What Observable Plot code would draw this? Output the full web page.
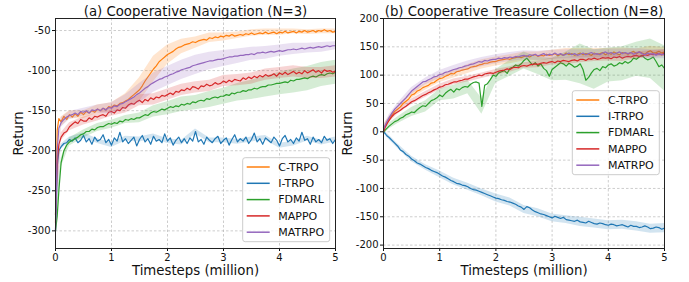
<!DOCTYPE html>
<html><head><meta charset="utf-8">
<script src="https://cdn.jsdelivr.net/npm/d3@7"></script>
<script src="https://cdn.jsdelivr.net/npm/@observablehq/plot@0.6"></script>
<style>
body{margin:0;background:#fff;font-family:"DejaVu Sans",sans-serif}
#wrap{display:flex;width:689px;height:282px;overflow:hidden}
svg{overflow:visible}
</style></head><body><div id="wrap"></div>
<script>
const methods = ["C-TRPO","I-TRPO","FDMARL","MAPPO","MATRPO"];
const colors = ["#ff7f0e","#1f77b4","#2ca02c","#d62728","#9467bd"];
const xTicks = [0,1,2,3,4,5];
const navYTicks = [-300,-250,-200,-150,-100,-50];
const ctcYTicks = [-200,-150,-100,-50,0,50,100,150,200];

const steps = [0,0.03,0.06,0.1,0.15,0.2,0.25,0.3,
  0.35,0.4,0.45,0.5,0.55,0.6,0.65,0.7,0.75,0.8,
  0.85,0.9,0.95,1.0,1.05,1.1,1.15,1.2,1.25,1.3,
  1.35,1.4,1.45,1.5,1.55,1.6,1.65,1.7,1.75,1.8,
  1.85,1.9,1.95,2.0,2.05,2.1,2.15,2.2,2.25,2.3,
  2.35,2.4,2.45,2.5,2.55,2.6,2.65,2.7,2.75,2.8,
  2.85,2.9,2.95,3.0,3.05,3.1,3.15,3.2,3.25,3.3,
  3.35,3.4,3.45,3.5,3.55,3.6,3.65,3.7,3.75,3.8,
  3.85,3.9,3.95,4.0,4.05,4.1,4.15,4.2,4.25,4.3,
  4.35,4.4,4.45,4.5,4.55,4.6,4.65,4.7,4.75,4.8,
  4.85,4.9,4.95,5.0];
const bandSteps = [0,0.1,0.25,0.5,0.75,1.0,1.25,1.5,1.75,2.0,2.25,2.5,2.75,3.0,3.25,3.5,3.75,4.0,4.25,4.5,4.75,5.0];

// (a) Cooperative Navigation (N=3)
const navCTRPO = [-290,-175,-160,-164,-157,-161,-155,-158,
  -154,-157,-152,-155,-151,-153,-150,-152,-148,-150,
  -147,-149,-145,-146,-143,-144,-141,-140,-138,-136,
  -133,-130,-127,-124,-119,-113,-108,-103,-98,-94,
  -89,-86,-83,-80,-78,-76,-73,-71,-70,-68,
  -67,-66,-64,-65,-63,-62,-61,-62,-59,-60,
  -58,-59,-57,-58,-56,-57,-55,-57,-56,-55,
  -56,-54,-55,-53,-55,-54,-53,-54,-52,-54,
  -53,-52,-54,-52,-53,-51,-53,-52,-51,-53,
  -51,-52,-50,-52,-51,-50,-52,-50,-51,-49,
  -51,-50,-52,-51];
const navITRPO = [-300,-220,-200,-195,-191,-190,-186,-188,
  -184,-190,-187,-181,-189,-185,-192,-183,-188,-186,
  -180,-190,-186,-193,-184,-188,-177,-189,-185,-191,
  -187,-183,-194,-186,-181,-189,-185,-192,-182,-188,
  -186,-190,-179,-188,-184,-193,-187,-183,-190,-185,
  -191,-184,-188,-176,-189,-186,-192,-183,-187,-190,
  -185,-182,-191,-187,-184,-193,-186,-180,-189,-185,
  -188,-183,-191,-186,-178,-189,-185,-192,-184,-187,
  -190,-183,-187,-194,-185,-181,-189,-186,-191,-184,
  -188,-177,-187,-185,-192,-183,-189,-186,-190,-182,
  -187,-185,-191,-186];
const navFDMARL = [-300,-282,-250,-215,-200,-193,-189,-187,
  -185,-183,-180,-179,-176,-176,-173,-174,-171,-170,
  -170,-168,-166,-167,-165,-166,-163,-164,-161,-162,
  -160,-161,-159,-159,-157,-155,-156,-153,-151,-152,
  -150,-148,-149,-147,-145,-146,-144,-145,-142,-143,
  -141,-142,-139,-140,-138,-137,-138,-135,-136,-134,
  -133,-134,-132,-132,-130,-131,-128,-129,-127,-127,
  -125,-126,-124,-124,-122,-123,-121,-120,-120,-118,
  -118,-117,-116,-116,-115,-114,-115,-112,-113,-111,
  -111,-110,-109,-110,-108,-107,-108,-106,-105,-106,
  -104,-103,-104,-102];
const navMAPPO = [-280,-215,-192,-183,-178,-176,-170,-167,
  -164,-166,-161,-163,-163,-159,-161,-157,-158,-156,
  -155,-157,-152,-151,-153,-149,-150,-146,-147,-143,
  -141,-142,-139,-137,-140,-136,-138,-134,-136,-133,
  -134,-131,-132,-130,-128,-130,-126,-127,-124,-125,
  -122,-124,-120,-121,-123,-119,-120,-117,-119,-118,
  -115,-117,-116,-113,-115,-112,-114,-111,-112,-113,
  -109,-111,-108,-110,-107,-109,-106,-108,-105,-107,
  -106,-104,-107,-103,-105,-102,-105,-103,-101,-104,
  -102,-104,-100,-103,-101,-99,-102,-100,-103,-99,
  -101,-100,-102,-101];
const navMATRPO = [-300,-200,-172,-165,-161,-158,-156,-155,
  -153,-155,-151,-152,-150,-153,-149,-150,-148,-150,
  -147,-149,-146,-147,-144,-145,-142,-141,-139,-137,
  -135,-133,-130,-128,-125,-122,-120,-117,-115,-113,
  -111,-110,-108,-107,-105,-104,-102,-101,-99,-98,
  -97,-96,-94,-93,-92,-91,-90,-89,-88,-88,
  -87,-86,-86,-85,-84,-83,-83,-82,-82,-81,
  -81,-80,-80,-79,-80,-78,-78,-77,-78,-77,
  -76,-77,-76,-75,-76,-75,-74,-74,-73,-74,
  -73,-72,-73,-72,-71,-72,-71,-70,-71,-70,
  -69,-70,-69,-69];
const navBandCTRPO = [10,6,5,5,5,6,9,15,16,12,9,7,6,5,4,4,4,4,3,3,3,3];
const navBandITRPO = [10,3,3,3,3,3,3,3,3,3,3,3,3,3,3,3,3,3,3,3,3,3];
const navBandFDMARL = [10,6,5,5,5,5,5,6,7,8,9,9,10,10,11,12,13,14,15,15,15,15];
const navBandMAPPO = [10,5,5,5,5,6,6,7,7,7,7,7,7,7,7,7,7,7,7,7,7,7];
const navBandMATRPO = [10,6,5,5,5,7,9,12,12,12,12,12,11,10,9,8,8,7,7,6,6,5];

// (b) Cooperative Treasure Collection (N=8)
const ctcCTRPO = [8,10,15,22,30,36,40,44,
  50,54,58,65,67,72,74,78,80,82,
  86,87,91,94,95,98,100,103,102,106,
  107,109,110,111,114,115,116,118,119,121,
  121,123,124,124,126,127,128,129,128,130,
  131,132,131,133,134,132,135,136,133,135,
  134,137,135,136,138,134,137,135,139,136,
  138,135,137,139,136,138,137,135,139,137,
  138,140,136,139,137,141,138,136,140,139,
  137,140,142,138,141,139,137,141,143,139,
  140,142,139,141];
const ctcITRPO = [0,-3,-7,-10,-15,-20,-25,-32,
  -35,-40,-43,-48,-51,-55,-57,-60,-63,-65,
  -68,-70,-72,-75,-78,-80,-83,-86,-88,-91,
  -92,-94,-95,-97,-100,-102,-103,-105,-107,-109,
  -111,-113,-115,-117,-118,-120,-121,-123,-124,-126,
  -128,-131,-133,-137,-132,-134,-138,-141,-143,-145,
  -146,-148,-150,-152,-149,-151,-153,-151,-155,-156,
  -157,-158,-156,-159,-160,-161,-158,-160,-162,-163,
  -161,-162,-164,-165,-163,-164,-166,-165,-164,-166,
  -168,-165,-167,-167,-169,-168,-166,-168,-171,-170,
  -168,-169,-172,-170];
const ctcFDMARL = [0,3,6,10,14,18,20,24,
  26,30,32,35,34,39,43,46,45,50,
  55,57,60,65,62,68,72,75,70,76,
  74,78,80,79,84,87,88,86,45,82,
  85,92,100,98,104,106,108,103,112,114,
  118,116,120,126,130,124,118,122,116,120,
  112,108,98,110,114,118,122,120,116,121,
  118,114,116,120,110,91,96,104,110,112,
  108,115,113,118,120,116,118,122,120,124,
  121,124,130,128,132,135,130,127,129,132,
  124,115,118,112];
const ctcMAPPO = [0,8,14,20,27,32,35,38,
  42,45,49,53,55,58,61,64,66,69,
  71,74,76,79,80,83,84,86,88,88,
  90,91,93,93,95,97,98,100,99,102,
  103,104,103,105,107,108,109,111,110,113,
  114,113,116,117,116,118,119,120,119,121,
  122,121,123,124,122,125,124,126,125,124,
  126,127,125,128,128,126,129,128,130,128,
  129,131,130,131,129,132,131,133,130,132,
  133,132,134,135,133,134,136,135,137,136,
  137,138,136,139];
const ctcMATRPO = [5,12,18,25,33,40,45,50,
  55,60,66,72,76,80,84,88,89,92,
  94,97,98,101,102,105,106,108,110,111,
  113,114,116,117,119,120,122,124,123,126,
  125,127,128,128,130,129,131,130,132,131,
  133,132,134,135,133,136,135,137,134,136,
  138,135,137,136,139,136,138,135,137,139,
  136,138,135,137,139,136,138,140,137,138,
  136,139,141,138,140,137,139,141,138,140,
  138,140,137,139,141,138,136,139,137,138,
  135,138,136,137];
const ctcBandCTRPO = [5,5,5,6,6,7,7,8,8,8,8,8,8,8,8,8,8,8,8,8,8,8];
const ctcBandITRPO = [3,4,4,5,5,6,6,6,6,7,7,7,7,7,7,8,8,8,8,8,8,8];
const ctcBandFDMARL = [5,5,6,8,10,10,12,12,14,12,14,15,15,20,25,35,35,30,30,30,35,40];
const ctcBandMAPPO = [4,4,4,5,5,5,5,5,5,5,5,5,6,6,6,6,6,6,6,6,6,6];
const ctcBandMATRPO = [5,5,5,6,6,7,7,8,8,8,8,8,8,8,8,8,8,8,8,8,8,8];

function buildRows(seriesList, bandList) {
  const lines = [], bands = [];
  methods.forEach((m, k) => {
    seriesList[k].forEach((v, i) => lines.push({method: m, t: steps[i], v}));
    bandList[k].forEach((w, j) => {
      const i = steps.indexOf(bandSteps[j]);
      const v = seriesList[k][i];
      bands.push({method: m, t: bandSteps[j], lo: v - w, hi: v + w});
    });
  });
  return {lines, bands};
}

function addLegend(svg, bx, by) {
  const g = d3.select(svg).append("g")
    .attr("font-family", "DejaVu Sans").attr("font-size", 11).attr("text-anchor", "start");
  g.append("rect").attr("x", bx).attr("y", by).attr("width", 87).attr("height", 84)
    .attr("rx", 2.5).attr("fill", "white").attr("fill-opacity", 0.8).attr("stroke", "#cccccc");
  methods.forEach((m, i) => {
    const y = by + 9.3 + i * 16.3;
    g.append("line").attr("x1", bx + 4).attr("x2", bx + 27).attr("y1", y).attr("y2", y)
      .attr("stroke", colors[i]).attr("stroke-width", 1.5);
    g.append("text").attr("x", bx + 35.6).attr("y", y).attr("dy", "0.35em")
      .attr("text-anchor", "start").attr("fill", "#111").text(m);
  });
}

function panel(o) {
  const {lines, bands} = buildRows(o.series, o.bands);
  const marks = [
    Plot.gridX(xTicks, {stroke: "#b0b0b0", strokeOpacity: 0.8, strokeDasharray: "2.5,2", strokeWidth: 0.8}),
    Plot.gridY(o.yTicks, {stroke: "#b0b0b0", strokeOpacity: 0.8, strokeDasharray: "2.5,2", strokeWidth: 0.8})
  ];
  methods.forEach(m => {
    marks.push(Plot.areaY(bands.filter(d => d.method === m), {x: "t", y1: "lo", y2: "hi", fill: "method", fillOpacity: 0.2}));
    marks.push(Plot.lineY(lines.filter(d => d.method === m), {x: "t", y: "v", stroke: "method", strokeWidth: 1.2}));
  });
  marks.push(
    Plot.axisX(xTicks, {tickSize: 3, tickPadding: 2, fontSize: 10, label: null, tickFormat: d => String(d)}),
    Plot.axisY(o.yTicks, {tickSize: 3, tickPadding: 2, fontSize: 10, label: null, tickFormat: d => String(d)}),
    Plot.frame({stroke: "#222", strokeWidth: 1}),
    Plot.text([o.title], {frameAnchor: "top", lineAnchor: "bottom", dy: -3, fontSize: 13.3, fill: "#111"}),
    Plot.text(["Timesteps (million)"], {frameAnchor: "bottom", lineAnchor: "bottom", dy: 26, fontSize: 13.3, fill: "#111"}),
    Plot.text(["Return"], {frameAnchor: "left", textAnchor: "middle", rotate: -90, dx: o.yLabelDx, fontSize: 13.3, fill: "#111"})
  );
  const svg = Plot.plot({
    width: o.width, height: 282,
    marginLeft: o.marginLeft, marginRight: o.marginRight, marginTop: 18, marginBottom: 34,
    x: {domain: [0, 5]},
    y: {domain: o.yDomain},
    color: {domain: methods, range: colors},
    style: {fontFamily: "DejaVu Sans", fontSize: "10px", color: "#111", background: "white", overflow: "visible"},
    marks
  });
  addLegend(svg, o.legendX, o.legendY);
  return svg;
}

const wrap = document.getElementById("wrap");
wrap.appendChild(panel({
  width: 345, marginLeft: 55, marginRight: 10, yDomain: [-322, -35], yTicks: navYTicks,
  series: [navCTRPO, navITRPO, navFDMARL, navMAPPO, navMATRPO],
  bands: [navBandCTRPO, navBandITRPO, navBandFDMARL, navBandMAPPO, navBandMATRPO],
  title: "(a) Cooperative Navigation (N=3)", yLabelDx: -37, legendX: 242.7, legendY: 157.7
}));
wrap.appendChild(panel({
  width: 344, marginLeft: 38, marginRight: 25, yDomain: [-206, 200], yTicks: ctcYTicks,
  series: [ctcCTRPO, ctcITRPO, ctcFDMARL, ctcMAPPO, ctcMATRPO],
  bands: [ctcBandCTRPO, ctcBandITRPO, ctcBandFDMARL, ctcBandMAPPO, ctcBandMATRPO],
  title: "(b) Cooperative Treasure Collection (N=8)", yLabelDx: -35.5, legendX: 227.3, legendY: 90.7
}));
</script></body></html>
